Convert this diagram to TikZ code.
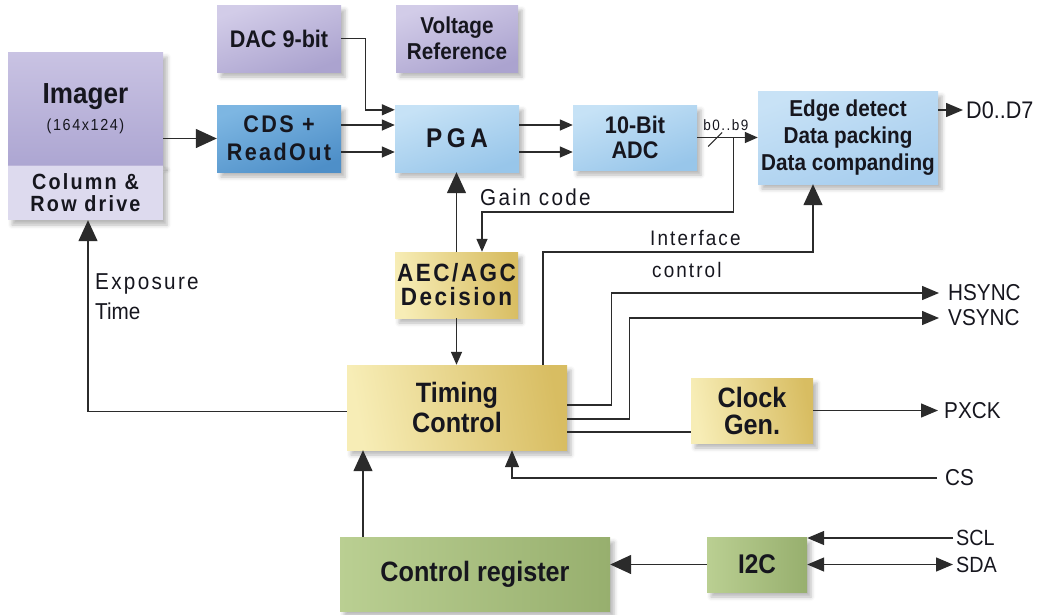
\documentclass[tikz,border=0pt]{standalone}
\usepackage{fontspec}
\setmainfont{Liberation Sans}[FakeStretch=0.9]
\newfontfamily\spc{Liberation Sans}[FakeStretch=0.9,LetterSpace=10]
\usetikzlibrary{arrows.meta,shadows.blur,calc}
\definecolor{lnc}{HTML}{2B2B2B}
\definecolor{txc}{HTML}{16161E}
\definecolor{purA}{HTML}{D2CCE8}
\definecolor{purB}{HTML}{ABA3CF}
\definecolor{imgA}{HTML}{C9C3E3}
\definecolor{imgB}{HTML}{ADA6D2}
\definecolor{imgC}{HTML}{DDDAEE}
\definecolor{cdsA}{HTML}{7DB6E2}
\definecolor{cdsB}{HTML}{4E8FC8}
\definecolor{pgaA}{HTML}{C6E2F6}
\definecolor{pgaB}{HTML}{98C6EA}
\definecolor{edgA}{HTML}{C8E2F6}
\definecolor{edgB}{HTML}{A6CDEE}
\definecolor{yelA}{HTML}{F7EDB6}
\definecolor{yelB}{HTML}{D8BD62}
\definecolor{grnA}{HTML}{BACF92}
\definecolor{grnB}{HTML}{97AF6E}
\begin{document}
\begin{tikzpicture}[x=1pt,y=-1pt,
  box/.style={inner sep=0pt, align=center, text=txc,
    blur shadow={shadow xshift=4pt,shadow yshift=-5pt,shadow blur radius=4pt,shadow opacity=28}},
  purplebox/.style={box, top color=purA, bottom color=purB, shading angle=20},
  bluedark/.style={box, top color=cdsA, bottom color=cdsB, shading angle=20},
  bluelight/.style={box, top color=pgaA, bottom color=pgaB, shading angle=20},
  blueedge/.style={box, top color=edgA, bottom color=edgB, shading angle=20},
  yellowbox/.style={box, left color=yelA, right color=yelB, shading angle=100},
  greenbox/.style={box, left color=grnA, right color=grnB},
  ln/.style={draw=lnc, line width=1.4pt},
  sa/.style={ln, -{Triangle[length=13pt,width=11pt]}},
  ma/.style={ln, -{Triangle[length=17pt,width=14pt]}},
  ba/.style={ln, -{Triangle[length=21pt,width=19pt]}},
  lbl/.style={inner sep=0pt, text=txc, font=\fontsize{23}{26}\selectfont},
  sig/.style={lbl, anchor=west}
]
\useasboundingbox (0,0) rectangle (1045,614);

% ---------- boxes ----------
\node[box, top color=imgA, bottom color=imgB, minimum width=155pt, minimum height=113pt]
  (imgtop) at (85.5,108.5)
  {\fontsize{29}{30}\selectfont\bfseries Imager\\[8pt]\spc\fontsize{16}{18}\selectfont (164x124)};
\node[box, fill=imgC, minimum width=155pt, minimum height=55pt,
  font=\spc\fontsize{22}{22}\selectfont\bfseries]
  (imgbot) at (85.5,192.5) {Column \&\\Row drive};
\draw[draw=purB!80, line width=0.6pt] (imgtop.south west) -- (imgtop.south east);

\node[purplebox, minimum width=124pt, minimum height=67pt, font=\fontsize{24}{26}\selectfont\bfseries]
  (dac) at (279,38.5) {DAC 9-bit};
\node[purplebox, minimum width=122pt, minimum height=67pt, font=\fontsize{23}{26}\selectfont\bfseries]
  (vref) at (457,38.5) {Voltage\\Reference};
\node[bluedark, minimum width=124pt, minimum height=67pt, font=\spc\fontsize{24}{28}\selectfont\bfseries]
  (cds) at (279,138.5) {CDS +\\ReadOut};
\node[bluelight, minimum width=124pt, minimum height=67pt, font=\fontsize{27}{28}\selectfont\bfseries]
  (pga) at (457,138.5) {P\,G\,A};
\node[bluelight, minimum width=124pt, minimum height=65pt, font=\fontsize{24}{25}\selectfont\bfseries]
  (adc) at (635,137.5) {10-Bit\\ADC};
\node[blueedge, minimum width=180pt, minimum height=93pt, font=\fontsize{23}{27}\selectfont\bfseries]
  (edge) at (848,137.5) {Edge detect\\Data packing\\Data companding};
\node[yellowbox, minimum width=123pt, minimum height=66pt, font=\spc\fontsize{25}{24}\selectfont\bfseries]
  (aec) at (456.5,285) {AEC/AGC\\Decision};
\node[yellowbox, minimum width=220pt, minimum height=85pt, font=\fontsize{28}{30}\selectfont\bfseries]
  (timing) at (457,407.5) {Timing\\Control};
\node[yellowbox, minimum width=122pt, minimum height=65pt, font=\fontsize{28}{27}\selectfont\bfseries]
  (clock) at (752,410.5) {Clock\\Gen.};
\node[greenbox, minimum width=270pt, minimum height=74pt, font=\fontsize{28}{30}\selectfont\bfseries]
  (creg) at (475,574) {Control register};
\node[greenbox, minimum width=100pt, minimum height=55pt, font=\fontsize{27}{30}\selectfont\bfseries]
  (i2c) at (757,564.5) {I2C};

% ---------- signal labels ----------
\node[sig, font=\fontsize{24}{26}\selectfont] (d07) at (966,110) {D0..D7};
\node[sig] (hsync) at (948,293) {HSYNC};
\node[sig] (vsync) at (948,318) {VSYNC};
\node[sig] (pxck) at (944,411) {PXCK};
\node[sig] (cs) at (945,478) {CS};
\node[sig, font=\fontsize{22}{26}\selectfont] (scl) at (956,538) {SCL};
\node[sig, font=\fontsize{22}{26}\selectfont] (sda) at (956,564.5) {SDA};
\node[lbl, anchor=base west] (expo) at (95,289) {\spc Exposure};
\node[lbl, anchor=base west] (etime) at (95,319) {Time};
\node[lbl, anchor=base west] (gain) at (480,205) {\spc Gain code};
\node[lbl, anchor=base west, font=\spc\fontsize{21}{24}\selectfont] (intf) at (650,245) {Interface};
\node[lbl, anchor=base west, font=\spc\fontsize{21}{24}\selectfont] (ctrl) at (652,277) {control};

% ---------- connectors ----------
\draw[ba] (imgtop.east |- cds.west) -- (cds.west);
\draw[sa] (dac.east) -- ++(24,0) |- ($(pga.north west)+(0,5)$);
\draw[sa] ($(cds.east)+(0,-13.5)$) -- ($(pga.west)+(0,-13.5)$);
\draw[sa] ($(cds.east)+(0,13.5)$) -- ($(pga.west)+(0,13.5)$);
\draw[sa] ($(pga.east)+(0,-13.5)$) coordinate (p1) -- (adc.west |- p1);
\draw[sa] ($(pga.east)+(0,13.5)$) coordinate (p2) -- (adc.west |- p2);
\draw[sa] (adc.east) -- (edge.west);
\draw[ln, line width=1.1pt] ($(adc.east)+(11,9)$) coordinate (s1) -- ($(adc.east)+(25,-5)$) coordinate (s2);
\node[lbl, anchor=base west, font=\spc\fontsize{15}{17}\selectfont] (bus) at ($(adc.east)+(6,-7.5)$) {b0..b9};
\coordinate (br) at ($(adc.east)+(36,0)$);
\draw[sa] (br) -- ++(0,74.5) -| ($(aec.north)+(25.5,0)$);
\draw[ba] (aec.north) -- (aec.north |- pga.south);
\draw[sa] (aec.south) -- (aec.south |- timing.north);
\draw[ba] ($(timing.west)+(0,4)$) -| ($(imgbot.south)+(2.5,0)$);
\draw[ba] ($(timing.north)+(86,0)$) -- ++(0,-113) -| ($(edge.south)+(-35,0)$);
\draw[ma, shorten >=9pt] ($(timing.east)+(0,-2.5)$) -- ++(44,0) |- (hsync.west);
\draw[ma, shorten >=9pt] ($(timing.east)+(0,11.5)$) -- ++(62,0) |- (vsync.west);
\draw[ln] ($(timing.east)+(0,24.5)$) coordinate (p3) -- (clock.west |- p3);
\draw[ma, shorten >=6pt] (clock.east) -- (clock.east -| pxck.west);
\draw[ma] ([xshift=-8pt]cs.west) -| ($(timing.south)+(55,0)$);
\draw[ba] ($(creg.north)+(-112,0)$) coordinate (c1) -- (c1 |- timing.south);
\draw[ba] (i2c.west) -- (creg.east |- i2c.west);
\draw[ma] ([xshift=-3pt]scl.west) -- (i2c.east |- scl.west);
\draw[ln, {Triangle[length=17pt,width=14pt]}-{Triangle[length=17pt,width=14pt]}]
  (i2c.east |- sda.west) -- ([xshift=-3pt]sda.west);
\draw[ma, shorten >=3pt] (edge.east |- d07.west) -- (d07.west);
\end{tikzpicture}
\end{document}
